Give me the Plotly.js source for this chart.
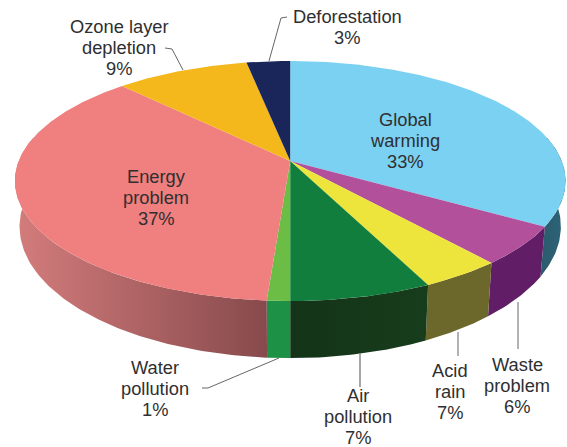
<!DOCTYPE html>
<html>
<head>
<meta charset="utf-8">
<script src="https://cdn.plot.ly/plotly-3.0.1.min.js"></script>
<style>html,body{margin:0;padding:0;background:#fff;overflow:hidden}#chart{width:567px;height:447px}</style>
</head>
<body>
<div id="chart"></div>
<script>
// Data, clockwise from twelve o'clock
var categories = ["Global warming", "Waste problem", "Acid rain", "Air pollution", "Water pollution", "Energy problem", "Ozone layer depletion", "Deforestation"];
var printedPercent = [33, 6, 7, 7, 1, 37, 9, 3];
var sliceShare = [33.6, 5.2, 4.1, 7.1, 1.15, 36.65, 9.2, 3.0];
var topColors = ["#7BD1F2", "#B2509B", "#EEE53C", "#127E3E", "#6BBD45", "#F07F7F", "#F4B81C", "#1A2659"];
var wallLeft = ["#2C5B6E", "#611E66", "#6C672B", "#143318", "#1D9146", "#D47C7C", "#F4B81C", "#1A2659"];
var wallRight = ["#2C6378", "#611E66", "#6C672B", "#173D1C", "#1D9146", "#874A4C", "#F4B81C", "#1A2659"];
var labelLines = [["Global", "warming"], ["Waste", "problem"], ["Acid", "rain"], ["Air", "pollution"], ["Water", "pollution"], ["Energy", "problem"], ["Ozone layer", "depletion"], ["Deforestation"]];
var labelX = [405, 517, 450, 358, 155, 156, 119, 347];
var labelY = [140, 385, 391, 416.5, 388, 197, 47, 27];
var leaderX = [[518, 518], [458, 458], [360, 360], [202, 208, 279], [165, 172, 183], [287, 281, 269]];
var leaderY = [[302, 349], [332, 356], [353, 387], [388, 388, 358], [48, 49, 70], [17, 18, 61]];
var leaderColor = ["#9a9a9a", "#9a9a9a", "#8a8a8a", "#666666", "#666666", "#666666"];
var linePitch = 21;

// Projected disc
var apexX = 290.2, apexY = 161, radX = 271.5, radY = 116.67, persp = 1 / 6;
var wallScaleX = 0.983, wallScaleY = 1.096, wallCy = 225.5, discCy = 180;

function rim(deg) {
  var t = deg * Math.PI / 180, u = Math.sin(t), v = -Math.cos(t), d = 1 - persp * v;
  return [apexX + radX * u / d, apexY + radY * v / d];
}
function rimLow(deg) {
  var p = rim(deg);
  return [apexX + wallScaleX * (p[0] - apexX), wallCy + wallScaleY * (p[1] - discCy)];
}
function arc(a, b, fn) {
  var pts = [], n = Math.max(2, Math.ceil(Math.abs(b - a) / 0.75));
  for (var i = 0; i <= n; i++) pts.push(fn(a + (b - a) * i / n));
  return pts;
}

var walls = [], tops = [];
var total = sliceShare.reduce(function (s, v) { return s + v; }, 0);
var cum = 0;
sliceShare.forEach(function (share, i) {
  var a = cum / total * 360, b = (cum + share) / total * 360;
  cum += share;
  var wa = Math.max(a, 78), wb = Math.min(b, 282);
  if (wb > wa) {
    var upper = arc(wa, wb, rim), lower = arc(wb, wa, rimLow), poly = upper.concat(lower);
    var xs = poly.map(function (p) { return p[0]; });
    walls.push({
      type: "scatter", mode: "lines", hoverinfo: "skip", showlegend: false,
      x: xs.concat([poly[0][0]]), y: poly.map(function (p) { return p[1]; }).concat([poly[0][1]]),
      line: { width: 0 }, fill: "toself",
      fillgradient: {
        type: "horizontal",
        start: Math.min.apply(null, xs), stop: Math.max.apply(null, xs),
        colorscale: [[0, wallLeft[i]], [1, wallRight[i]]]
      }
    });
  }
  var edge = arc(a, b, rim);
  tops.push({
    type: "scatter", mode: "lines", name: categories[i], showlegend: false,
    x: [apexX].concat(edge.map(function (p) { return p[0]; }), [apexX]),
    y: [apexY].concat(edge.map(function (p) { return p[1]; }), [apexY]),
    line: { width: 0 }, fill: "toself", fillcolor: topColors[i],
    text: categories[i] + " " + printedPercent[i] + "%", hoverinfo: "text"
  });
});

var leaders = leaderX.map(function (xs, i) {
  return { type: "scatter", mode: "lines", x: xs, y: leaderY[i], hoverinfo: "skip", showlegend: false,
    line: { color: leaderColor[i], width: i < 3 ? 1.5 : 1 } };
});

var annotations = [];
categories.forEach(function (c, i) {
  var lines = labelLines[i].concat([printedPercent[i] + "%"]);
  lines.forEach(function (txt, j) {
    annotations.push({
      x: labelX[i], y: labelY[i] + (j - (lines.length - 1) / 2) * linePitch,
      xref: "x", yref: "y", xanchor: "center", yanchor: "middle",
      showarrow: false, align: "center", borderpad: 0, text: txt,
      font: { family: "Liberation Sans, Arial, sans-serif", size: 18.3, color: "#2f2f31" }
    });
  });
});

var layout = {
  width: 567, height: 447,
  margin: { l: 0, r: 0, t: 0, b: 0 },
  paper_bgcolor: "#fff", plot_bgcolor: "#fff", showlegend: false,
  xaxis: { range: [0, 567], visible: false, fixedrange: true },
  yaxis: { range: [447, 0], visible: false, fixedrange: true },
  annotations: annotations
};
Plotly.newPlot("chart", walls.concat(tops, leaders), layout, { displayModeBar: false, staticPlot: true });
</script>
</body>
</html>
